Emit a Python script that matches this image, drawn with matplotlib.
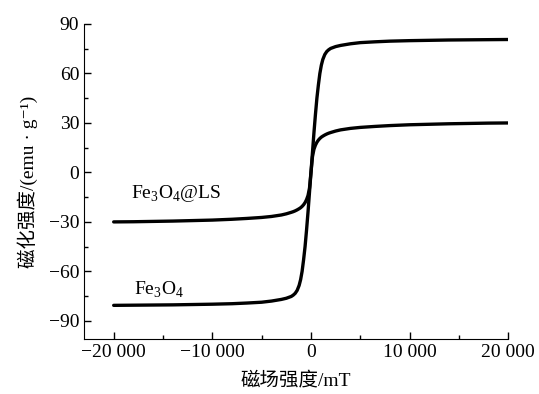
import matplotlib
matplotlib.use("Agg")
import matplotlib.pyplot as plt
import matplotlib.ticker as ticker
import numpy as np

plt.rcParams['font.family'] = ['Liberation Serif', 'Noto Sans CJK SC', 'DejaVu Serif']
plt.rcParams['mathtext.fontset'] = 'custom'
plt.rcParams['mathtext.rm'] = 'Liberation Serif'
plt.rcParams['axes.unicode_minus'] = True

# magnetic field (mT) (positive half; curves are odd)
field_pos = [0, 150, 300, 450, 600, 750, 900, 1050, 1200, 1400, 1600, 1800, 2000, 2500,
             3000, 4000, 5000, 6500, 8000, 10000, 12000, 14000, 16000, 18000, 20000]
# Fe3O4
fe3o4_pos = [0, 12, 24, 35, 45, 53, 60, 65, 68.5, 71.5, 73.3, 74.4, 75.2, 76.3,
             77.0, 78.0, 78.7, 79.2, 79.6, 79.9, 80.1, 80.3, 80.4, 80.5, 80.6]
# Fe3O4@LS
ls_pos = [0, 9.5, 14, 16.5, 18.3, 19.6, 20.6, 21.4, 22.0, 22.7, 23.3, 23.8, 24.2, 25.1,
          25.8, 26.7, 27.3, 27.9, 28.4, 28.9, 29.2, 29.5, 29.7, 29.9, 30.0]

field = np.concatenate([-np.array(field_pos[::-1]), field_pos[1:]])
fe3o4 = np.concatenate([-np.array(fe3o4_pos[::-1]), fe3o4_pos[1:]])
fe3o4_ls = np.concatenate([-np.array(ls_pos[::-1]), ls_pos[1:]])

fig = plt.figure(figsize=(5.39, 3.94), dpi=100)
ax = fig.add_axes([0.156, 0.1396, 0.787, 0.7995])

ax.plot(field, fe3o4, color='black', linewidth=2.4, solid_capstyle='round')
ax.plot(field, fe3o4_ls, color='black', linewidth=2.4, solid_capstyle='round')

ax.text(-18200, -12.5, 'Fe$_3$O$_4$@LS', fontsize=14, ha='left', va='center')
ax.text(-17900, -71.5, 'Fe$_3$O$_4$', fontsize=14, ha='left', va='center')

ax.set_xlim(-23000, 20000)
ax.set_ylim(-101, 90)
ax.spines['top'].set_visible(False)
ax.spines['right'].set_visible(False)

ax.set_xticks([-20000, -10000, 0, 10000, 20000])
ax.xaxis.set_minor_locator(ticker.MultipleLocator(5000))
ax.set_yticks([-90, -60, -30, 0, 30, 60, 90])
ax.yaxis.set_minor_locator(ticker.MultipleLocator(15))

def fmt_x(v, pos):
    s = '{:,}'.format(int(round(v))).replace(',', ' ')
    return s.replace('-', '\u2212')

def fmt_y(v, pos):
    return '{:d}'.format(int(round(v))).replace('-', '\u2212')

ax.xaxis.set_major_formatter(ticker.FuncFormatter(fmt_x))
ax.yaxis.set_major_formatter(ticker.FuncFormatter(fmt_y))
ax.tick_params(which='both', direction='in', labelsize=14, width=1)
ax.tick_params(which='major', length=5)
ax.tick_params(which='minor', length=3)

ax.set_xlabel('磁场强度/mT', fontsize=14, labelpad=8)
ax.set_ylabel('磁化强度/(emu · g\u207b\u00b9)', fontsize=14, labelpad=8)

fig.savefig('out.png', dpi=100)
